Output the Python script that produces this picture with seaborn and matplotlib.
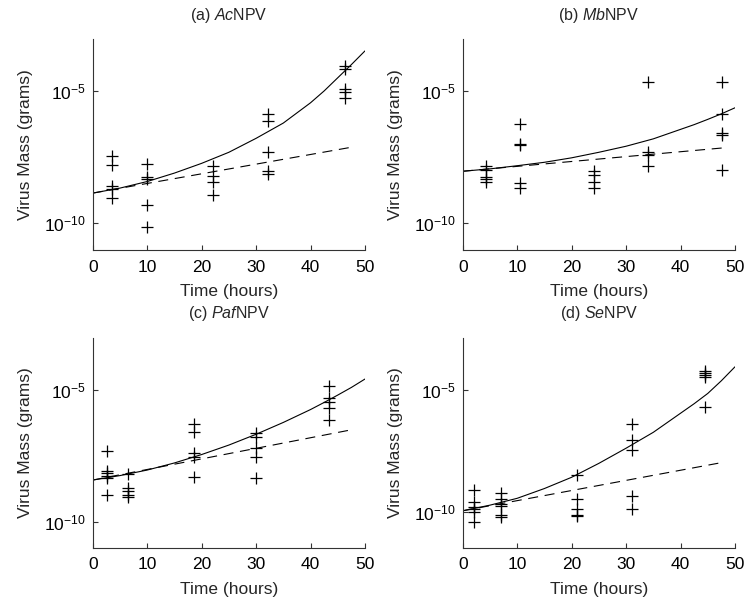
import numpy as np
import pandas as pd
import matplotlib
matplotlib.use("Agg")
import matplotlib.pyplot as plt
from matplotlib.ticker import NullLocator, FixedLocator
import seaborn as sns

# ---------------- data (log10 of virus mass in grams) ----------------
ac_t = [3.5]*5 + [10.0]*5 + [22.0]*4 + [32.1]*5 + [46.4]*5
ac_logm = [-7.48, -7.82, -8.60, -8.73, -9.07,
           -7.77, -8.27, -8.35, -9.33, -10.15,
           -7.86, -8.24, -8.46, -8.94,
           -5.89, -6.15, -7.33, -8.05, -8.14,
           -4.07, -4.17, -4.91, -5.04, -5.25]

mb_t = [4.3]*5 + [10.5]*5 + [24.1]*4 + [34.1]*4 + [47.7]*5
mb_logm = [-7.86, -8.02, -8.28, -8.35, -8.47,
           -6.25, -7.00, -7.06, -8.50, -8.69,
           -8.05, -8.21, -8.44, -8.70,
           -4.66, -7.33, -7.42, -7.84,
           -4.68, -5.89, -6.59, -6.67, -7.99]

paf_t = [2.6]*6 + [6.5]*5 + [18.6]*5 + [29.9]*5 + [43.3]*5
paf_logm = [-7.32, -8.08, -8.16, -8.25, -8.35, -8.99,
            -8.19, -8.73, -8.82, -8.99, -9.05,
            -6.30, -6.58, -7.41, -7.53, -8.29,
            -6.65, -6.77, -7.19, -7.53, -8.35,
            -4.85, -5.29, -5.44, -5.70, -6.14]

se_t = [2.1]*6 + [7.0]*6 + [21.0]*5 + [31.0]*5 + [44.5]*5
se_logm = [-9.11, -9.59, -9.79, -9.86, -9.97, -10.41,
           -9.21, -9.45, -9.66, -9.73, -10.11, -10.21,
           -8.49, -9.45, -9.86, -10.11, -10.16,
           -6.41, -7.05, -7.47, -9.34, -9.86,
           -4.22, -4.32, -4.38, -4.45, -5.68]

# model curves
curve_t = [0, 5, 10, 15, 20, 25, 30, 35, 40, 42.5, 45, 47.5, 50]
ac_solid = [-8.88, -8.69, -8.44, -8.12, -7.75, -7.33, -6.80, -6.22, -5.45, -5.00, -4.50, -4.00, -3.48]
mb_solid = [-8.05, -7.96, -7.84, -7.71, -7.54, -7.33, -7.10, -6.82, -6.46, -6.28, -6.08, -5.87, -5.64]
paf_solid = [-8.42, -8.25, -8.04, -7.77, -7.45, -7.09, -6.68, -6.23, -5.74, -5.47, -5.19, -4.90, -4.58]
se_solid = [-9.94, -9.71, -9.43, -9.03, -8.57, -8.00, -7.38, -6.73, -5.95, -5.56, -5.14, -4.62, -4.05]

dash_t = [0, 48]
ac_dash = [-8.88, -7.12]
mb_dash = [-8.05, -7.16]
paf_dash = [-8.42, -6.49]
se_dash = [-9.94, -7.95]

titles = [r"(a) $\it{Ac}$NPV", r"(b) $\it{Mb}$NPV", r"(c) $\it{Paf}$NPV", r"(d) $\it{Se}$NPV"]
ylims = [(-11.04, -3.04), (-11.04, -3.04), (-10.99, -3.01), (-11.45, -2.86)]

# ---------------- style ----------------
sns.set_theme(style="ticks")
plt.rcParams["font.family"] = ["Liberation Sans", "DejaVu Sans"]
plt.rcParams["mathtext.fontset"] = "custom"
plt.rcParams["mathtext.rm"] = "Liberation Sans"
plt.rcParams["mathtext.it"] = "Liberation Sans:italic"
plt.rcParams["mathtext.default"] = "regular"

W, H = 749, 606
fig = plt.figure(figsize=(W / 100, H / 100), dpi=100)

positions = [
    (92.7, 39.3, 365.0, 250.0),
    (462.7, 39.3, 735.0, 250.0),
    (92.7, 337.7, 365.0, 547.7),
    (462.7, 337.7, 735.0, 547.7),
]

panels = [
    (ac_t, ac_logm, ac_solid, ac_dash),
    (mb_t, mb_logm, mb_solid, mb_dash),
    (paf_t, paf_logm, paf_solid, paf_dash),
    (se_t, se_logm, se_solid, se_dash),
]

for i, ((t, lm, sol, dsh), (x0, y0, x1, y1)) in enumerate(zip(panels, positions)):
    ax = fig.add_axes([x0 / W, 1 - y1 / H, (x1 - x0) / W, (y1 - y0) / H])
    pts = pd.DataFrame({"t": t, "m": 10.0 ** np.array(lm)})
    sol_df = pd.DataFrame({"t": curve_t, "m": 10.0 ** np.array(sol)})
    dsh_df = pd.DataFrame({"t": dash_t, "m": 10.0 ** np.array(dsh)})

    sns.lineplot(data=dsh_df, x="t", y="m", ax=ax, color="black", lw=0.8,
                 linestyle=(0, (9, 6)), estimator=None, sort=False)
    sns.lineplot(data=sol_df, x="t", y="m", ax=ax, color="black", lw=0.8,
                 estimator=None, sort=False)
    sns.scatterplot(data=pts, x="t", y="m", ax=ax, marker="+", color="black",
                    s=75, linewidth=0.9)

    ax.set_yscale("log")
    ax.set_xlim(0, 50)
    ax.set_ylim(10.0 ** ylims[i][0], 10.0 ** ylims[i][1])
    ax.set_xticks([0, 10, 20, 30, 40, 50])
    ax.yaxis.set_major_locator(FixedLocator([1e-10, 1e-5]))
    ax.yaxis.set_minor_locator(NullLocator())
    ax.xaxis.set_minor_locator(NullLocator())
    ax.tick_params(direction="in", length=3.5, width=0.8, labelsize=12.5,
                   color="#333333", labelcolor="black")
    ax.tick_params(axis="x", pad=7)
    ax.tick_params(axis="y", pad=5)
    for s in ["top", "right"]:
        ax.spines[s].set_visible(False)
    for s in ["left", "bottom"]:
        ax.spines[s].set_linewidth(0.8)
        ax.spines[s].set_color("#333333")
    ax.set_xlabel("Time (hours)", fontsize=12.5, labelpad=7)
    ax.set_ylabel("Virus Mass (grams)", fontsize=12.5, labelpad=8)
    ax.set_title(titles[i], fontsize=11.5, pad=14)

fig.savefig("out.png", dpi=100)
